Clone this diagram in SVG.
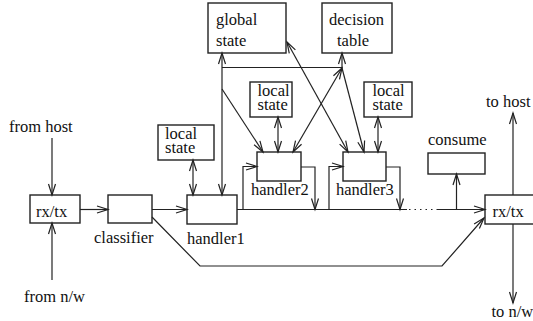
<svg xmlns="http://www.w3.org/2000/svg" width="533" height="321" viewBox="0 0 533 321">
<style>
.box{fill:none;stroke:#222;stroke-width:1.4}
.ln{fill:none;stroke:#222;stroke-width:1.2}
.a{marker-end:url(#ah)}
.b{marker-start:url(#ah);marker-end:url(#ah)}
.t{font-size:16.5px;fill:#111}
</style>
<defs>
<marker id="ah" markerUnits="userSpaceOnUse" markerWidth="14" markerHeight="10" refX="11" refY="4" orient="auto-start-reverse" overflow="visible">
<path d="M0,0.5 L11,4 L0,7.5" fill="none" stroke="#222" stroke-width="1.2"/>
</marker>
</defs>
<rect width="533" height="321" fill="#fff"/>
<g font-family="Liberation Serif, Times New Roman, serif" class="t">
<g id="global-state"><rect class="box" x="208" y="3" width="78" height="50"/><text x="216" y="25">global</text><text x="216" y="45.5">state</text></g>
<g id="decision-table"><rect class="box" x="322" y="3" width="70" height="50"/><text x="329" y="25">decision</text><text x="337" y="45.5">table</text></g>
<g id="local-state-1"><rect class="box" x="158" y="125" width="56" height="35"/><text x="165" y="139">local</text><text x="165" y="152.5">state</text></g>
<g id="local-state-2"><rect class="box" x="250" y="82" width="42" height="35"/><text x="257.5" y="96">local</text><text x="257.5" y="109.5">state</text></g>
<g id="local-state-3"><rect class="box" x="364" y="82" width="48" height="35"/><text x="372.5" y="96">local</text><text x="372.5" y="109.5">state</text></g>
<g id="rxtx-in"><rect class="box" x="30" y="195" width="50" height="28"/><text x="36" y="217">rx/tx</text></g>
<g id="classifier"><rect class="box" x="108" y="195" width="44" height="28"/><text x="94" y="243">classifier</text></g>
<g id="handler1"><rect class="box" x="187" y="195" width="50" height="29"/><text x="187" y="244">handler1</text></g>
<g id="handler2"><rect class="box" x="257" y="152" width="44" height="29"/><text x="251" y="195">handler2</text></g>
<g id="handler3"><rect class="box" x="343" y="152" width="43" height="29"/><text x="336" y="195">handler3</text></g>
<g id="consume"><rect class="box" x="428" y="153" width="57" height="21"/><text x="428" y="145">consume</text></g>
<g id="rxtx-out"><rect class="box" x="485" y="195" width="50" height="29"/><text x="492.5" y="216.5">rx/tx</text></g>
<g id="labels"><text x="9" y="132">from host</text><text x="24" y="302">from n/w</text><text x="486" y="107">to host</text><text x="491.5" y="316.5">to n/w</text></g>
</g>
<g id="connectors">
<line class="ln a" x1="52" y1="138" x2="52" y2="195"/>
<line class="ln a" x1="52" y1="280" x2="52" y2="223"/>
<line class="ln a" x1="80" y1="209.5" x2="108" y2="209.5"/>
<line class="ln a" x1="152" y1="209.5" x2="187" y2="209.5"/>
<line class="ln b" x1="193" y1="160" x2="193" y2="195"/>
<line class="ln b" x1="278" y1="117" x2="278" y2="152"/>
<line class="ln b" x1="378" y1="117" x2="378" y2="152"/>
<line class="ln b" x1="222" y1="195" x2="222" y2="53"/>
<polyline class="ln a" points="222,67.5 342,67.5 342,53"/>
<line class="ln a" x1="222" y1="89" x2="263" y2="152"/>
<line class="ln b" x1="342" y1="68" x2="293" y2="152"/>
<line class="ln b" x1="287" y1="42" x2="348" y2="152"/>
<line class="ln a" x1="342" y1="68" x2="364" y2="152"/>
<line class="ln" x1="237" y1="209.5" x2="407" y2="209.5"/>
<line class="ln" x1="409" y1="209.5" x2="437" y2="209.5" stroke-dasharray="1.5,4"/>
<line class="ln a" x1="437" y1="209.5" x2="485" y2="209.5"/>
<polyline class="ln a" points="243,209.5 243,166.5 257,166.5"/>
<polyline class="ln a" points="301,167 315,167 315,209.5"/>
<polyline class="ln a" points="329,209.5 329,166.5 343,166.5"/>
<polyline class="ln a" points="386,167 400,167 400,209.5"/>
<line class="ln a" x1="456.5" y1="209.5" x2="456.5" y2="174"/>
<polyline class="ln a" points="152,217 200,266 442,266 484,218"/>
<line class="ln a" x1="513" y1="195" x2="513" y2="113"/>
<line class="ln a" x1="513" y1="224" x2="513" y2="303"/>
</g>
</svg>
